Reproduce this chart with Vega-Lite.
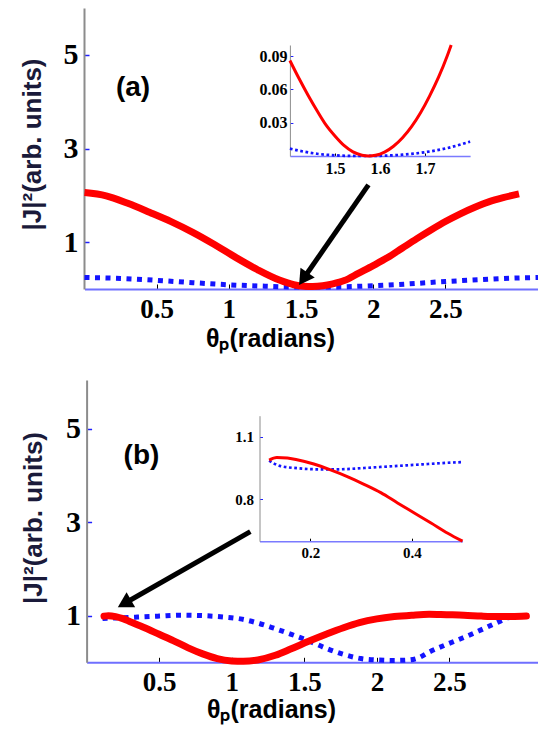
{
  "$schema": "https://vega.github.io/schema/vega-lite/v6.json",
  "width": 454,
  "height": 655,
  "autosize": {"type": "none"},
  "padding": {"left": 84, "top": 8, "right": 0, "bottom": 70},
  "background": "white",
  "config": {"view": {"stroke": null}, "axis": {"grid": false, "labelFlush": false, "labelOverlap": false}},
  "datasets": {
    "mainA": [
      {"series": "red", "theta": 0.0, "value": 2.06},
      {"series": "red", "theta": 0.15, "value": 1.99},
      {"series": "red", "theta": 0.3, "value": 1.83},
      {"series": "red", "theta": 0.45, "value": 1.64},
      {"series": "red", "theta": 0.6, "value": 1.44},
      {"series": "red", "theta": 0.75, "value": 1.21},
      {"series": "red", "theta": 0.9, "value": 0.95},
      {"series": "red", "theta": 1.05, "value": 0.67},
      {"series": "red", "theta": 1.2, "value": 0.41},
      {"series": "red", "theta": 1.35, "value": 0.19},
      {"series": "red", "theta": 1.45, "value": 0.09},
      {"series": "red", "theta": 1.52, "value": 0.06},
      {"series": "red", "theta": 1.58, "value": 0.055},
      {"series": "red", "theta": 1.65, "value": 0.07},
      {"series": "red", "theta": 1.72, "value": 0.11},
      {"series": "red", "theta": 1.8, "value": 0.18},
      {"series": "red", "theta": 1.9, "value": 0.34},
      {"series": "red", "theta": 2.0, "value": 0.5},
      {"series": "red", "theta": 2.1, "value": 0.67},
      {"series": "red", "theta": 2.2, "value": 0.87},
      {"series": "red", "theta": 2.3, "value": 1.07},
      {"series": "red", "theta": 2.4, "value": 1.26},
      {"series": "red", "theta": 2.5, "value": 1.44},
      {"series": "red", "theta": 2.6, "value": 1.6},
      {"series": "red", "theta": 2.7, "value": 1.74},
      {"series": "red", "theta": 2.8, "value": 1.86},
      {"series": "red", "theta": 2.9, "value": 1.95},
      {"series": "red", "theta": 3.01, "value": 2.03},
      {"series": "blue", "theta": 0.0, "value": 0.245},
      {"series": "blue", "theta": 0.25, "value": 0.225},
      {"series": "blue", "theta": 0.5, "value": 0.185},
      {"series": "blue", "theta": 0.75, "value": 0.135},
      {"series": "blue", "theta": 1.0, "value": 0.09},
      {"series": "blue", "theta": 1.25, "value": 0.06},
      {"series": "blue", "theta": 1.5, "value": 0.04},
      {"series": "blue", "theta": 1.75, "value": 0.045},
      {"series": "blue", "theta": 2.0, "value": 0.07},
      {"series": "blue", "theta": 2.25, "value": 0.11},
      {"series": "blue", "theta": 2.5, "value": 0.16},
      {"series": "blue", "theta": 2.75, "value": 0.2},
      {"series": "blue", "theta": 3.0, "value": 0.235},
      {"series": "blue", "theta": 3.1416, "value": 0.245}
    ],
    "insetA": [
      {"series": "red", "theta": 1.4, "value": 0.086},
      {"series": "red", "theta": 1.42, "value": 0.07},
      {"series": "red", "theta": 1.44, "value": 0.055},
      {"series": "red", "theta": 1.46, "value": 0.041},
      {"series": "red", "theta": 1.48, "value": 0.028},
      {"series": "red", "theta": 1.5, "value": 0.018},
      {"series": "red", "theta": 1.52, "value": 0.0095},
      {"series": "red", "theta": 1.54, "value": 0.0037},
      {"series": "red", "theta": 1.56, "value": 0.0007},
      {"series": "red", "theta": 1.575, "value": 0.0},
      {"series": "red", "theta": 1.59, "value": 0.0006},
      {"series": "red", "theta": 1.61, "value": 0.0035},
      {"series": "red", "theta": 1.63, "value": 0.0088},
      {"series": "red", "theta": 1.65, "value": 0.0165},
      {"series": "red", "theta": 1.67, "value": 0.0265},
      {"series": "red", "theta": 1.69, "value": 0.039},
      {"series": "red", "theta": 1.71, "value": 0.054},
      {"series": "red", "theta": 1.73, "value": 0.071},
      {"series": "red", "theta": 1.75, "value": 0.091},
      {"series": "red", "theta": 1.758, "value": 0.1},
      {"series": "blue", "theta": 1.4, "value": 0.0066},
      {"series": "blue", "theta": 1.43, "value": 0.004},
      {"series": "blue", "theta": 1.46, "value": 0.002},
      {"series": "blue", "theta": 1.5, "value": 0.0006},
      {"series": "blue", "theta": 1.55, "value": 0.0},
      {"series": "blue", "theta": 1.6, "value": 0.0002},
      {"series": "blue", "theta": 1.65, "value": 0.0012},
      {"series": "blue", "theta": 1.7, "value": 0.0034},
      {"series": "blue", "theta": 1.75, "value": 0.0072},
      {"series": "blue", "theta": 1.8, "value": 0.013}
    ],
    "mainB": [
      {"series": "red", "theta": 0.12, "value": 0.99},
      {"series": "red", "theta": 0.15, "value": 1.0},
      {"series": "red", "theta": 0.2, "value": 0.98},
      {"series": "red", "theta": 0.25, "value": 0.935},
      {"series": "red", "theta": 0.3, "value": 0.87},
      {"series": "red", "theta": 0.4, "value": 0.74},
      {"series": "red", "theta": 0.5, "value": 0.6},
      {"series": "red", "theta": 0.6, "value": 0.46},
      {"series": "red", "theta": 0.7, "value": 0.31},
      {"series": "red", "theta": 0.8, "value": 0.18},
      {"series": "red", "theta": 0.9, "value": 0.08},
      {"series": "red", "theta": 1.0, "value": 0.03},
      {"series": "red", "theta": 1.08, "value": 0.02},
      {"series": "red", "theta": 1.18, "value": 0.05},
      {"series": "red", "theta": 1.3, "value": 0.15},
      {"series": "red", "theta": 1.41, "value": 0.29},
      {"series": "red", "theta": 1.53, "value": 0.45},
      {"series": "red", "theta": 1.65, "value": 0.6},
      {"series": "red", "theta": 1.77, "value": 0.74},
      {"series": "red", "theta": 1.88, "value": 0.85},
      {"series": "red", "theta": 2.0, "value": 0.93},
      {"series": "red", "theta": 2.12, "value": 0.98},
      {"series": "red", "theta": 2.24, "value": 1.01},
      {"series": "red", "theta": 2.36, "value": 1.03},
      {"series": "red", "theta": 2.48, "value": 1.02},
      {"series": "red", "theta": 2.6, "value": 1.01},
      {"series": "red", "theta": 2.72, "value": 0.99},
      {"series": "red", "theta": 2.83, "value": 0.98},
      {"series": "red", "theta": 2.93, "value": 0.98},
      {"series": "red", "theta": 3.03, "value": 0.99},
      {"series": "blue", "theta": 0.11, "value": 0.94},
      {"series": "blue", "theta": 0.2, "value": 0.95},
      {"series": "blue", "theta": 0.35, "value": 0.97},
      {"series": "blue", "theta": 0.5, "value": 0.99},
      {"series": "blue", "theta": 0.65, "value": 1.01},
      {"series": "blue", "theta": 0.8, "value": 1.0},
      {"series": "blue", "theta": 0.95, "value": 0.97},
      {"series": "blue", "theta": 1.06, "value": 0.93},
      {"series": "blue", "theta": 1.18, "value": 0.84},
      {"series": "blue", "theta": 1.29, "value": 0.73},
      {"series": "blue", "theta": 1.41, "value": 0.6},
      {"series": "blue", "theta": 1.53, "value": 0.46},
      {"series": "blue", "theta": 1.65, "value": 0.3},
      {"series": "blue", "theta": 1.77, "value": 0.17},
      {"series": "blue", "theta": 1.89, "value": 0.08},
      {"series": "blue", "theta": 2.0, "value": 0.05},
      {"series": "blue", "theta": 2.12, "value": 0.04},
      {"series": "blue", "theta": 2.22, "value": 0.05},
      {"series": "blue", "theta": 2.29, "value": 0.1},
      {"series": "blue", "theta": 2.36, "value": 0.22},
      {"series": "blue", "theta": 2.47, "value": 0.37},
      {"series": "blue", "theta": 2.59, "value": 0.52},
      {"series": "blue", "theta": 2.7, "value": 0.67},
      {"series": "blue", "theta": 2.82, "value": 0.84},
      {"series": "blue", "theta": 2.92, "value": 0.97},
      {"series": "blue", "theta": 2.98, "value": 1.0}
    ],
    "insetB": [
      {"series": "red", "theta": 0.119, "value": 0.988},
      {"series": "red", "theta": 0.134, "value": 1.0},
      {"series": "red", "theta": 0.155, "value": 0.998},
      {"series": "red", "theta": 0.174, "value": 0.989},
      {"series": "red", "theta": 0.207, "value": 0.969},
      {"series": "red", "theta": 0.24, "value": 0.941},
      {"series": "red", "theta": 0.273, "value": 0.909},
      {"series": "red", "theta": 0.306, "value": 0.872},
      {"series": "red", "theta": 0.339, "value": 0.832},
      {"series": "red", "theta": 0.372, "value": 0.783},
      {"series": "red", "theta": 0.405, "value": 0.735},
      {"series": "red", "theta": 0.438, "value": 0.687},
      {"series": "red", "theta": 0.471, "value": 0.638},
      {"series": "red", "theta": 0.5, "value": 0.6},
      {"series": "blue", "theta": 0.119, "value": 0.985},
      {"series": "blue", "theta": 0.14, "value": 0.96},
      {"series": "blue", "theta": 0.174, "value": 0.949},
      {"series": "blue", "theta": 0.207, "value": 0.944},
      {"series": "blue", "theta": 0.24, "value": 0.943},
      {"series": "blue", "theta": 0.273, "value": 0.945},
      {"series": "blue", "theta": 0.306, "value": 0.95},
      {"series": "blue", "theta": 0.339, "value": 0.955},
      {"series": "blue", "theta": 0.372, "value": 0.96},
      {"series": "blue", "theta": 0.405, "value": 0.965},
      {"series": "blue", "theta": 0.438, "value": 0.97},
      {"series": "blue", "theta": 0.471, "value": 0.975},
      {"series": "blue", "theta": 0.5, "value": 0.978}
    ],
    "arrowA": [{"theta": 1.967, "value": 2.224, "theta2": 1.516, "value2": 0.218}],
    "arrowB": [{"theta": 1.128, "value": 2.8, "theta2": 0.26, "value2": 1.26}]
  },
  "layer": [
    {
      "data": {"name": "mainA"},
      "encoding": {
        "x": {"field": "theta", "type": "quantitative",
          "scale": {"domain": [0, 3.1416], "range": [0.5, 454], "nice": false, "zero": false},
          "axis": {"orient": "bottom", "offset": -374, "values": [0.5, 1, 1.5, 2, 2.5], "format": "~g",
            "labelFont": "'Liberation Serif', 'Times New Roman', Times, serif", "labelFontWeight": "bold", "labelFontSize": 27, "labelColor": "black", "labelPadding": 12,
            "tickSize": -5, "tickColor": "black", "tickWidth": 1,
            "domainColor": "#6f6fff", "domainWidth": 2,
            "title": "θₚ(radians)", "titleFont": "Liberation Sans", "titleFontSize": 25, "titleFontWeight": "bold", "titleColor": "black",
            "titleX": 186, "titleY": 57, "titleBaseline": "alphabetic", "titleAlign": "center", "titleAngle": 0}},
        "y": {"field": "value", "type": "quantitative",
          "scale": {"domain": [0, 6], "range": [281, 0], "nice": false, "zero": false},
          "axis": {"orient": "left", "values": [1, 3, 5], "format": "~g",
            "labelFont": "'Liberation Serif', 'Times New Roman', Times, serif", "labelFontWeight": "bold", "labelFontSize": 30, "labelColor": "black", "labelPadding": 11,
            "tickSize": -5, "tickColor": "#2020ff", "tickWidth": 1.5,
            "domainColor": "#8c8c8c", "domainWidth": 2,
            "title": "|J|²(arb. units)", "titleFont": "Liberation Sans", "titleFontSize": 26, "titleFontWeight": "bold", "titleColor": "#1a1a3a",
            "titleX": -44, "titleY": 136, "titleAngle": 270, "titleBaseline": "alphabetic", "titleAlign": "center"}}
      },
      "layer": [
        {"transform": [{"filter": "datum.series === 'blue'"}],
         "mark": {"type": "line", "color": "#1414ff", "strokeWidth": 5, "strokeDash": [5, 5.5], "strokeCap": "butt", "interpolate": "monotone"}},
        {"transform": [{"filter": "datum.series === 'red'"}],
         "mark": {"type": "line", "color": "#ff0000", "strokeWidth": 7, "interpolate": "monotone"}},
        {"data": {"name": "arrowA"}, "mark": {"type": "rule", "color": "black", "strokeWidth": 5},
         "encoding": {"x2": {"field": "theta2"}, "y2": {"field": "value2"}}},
        {"data": {"name": "arrowA"}, "mark": {"type": "point", "shape": "triangle-up", "filled": true, "color": "black", "opacity": 1, "size": 300, "angle": 214.8},
         "encoding": {"x": {"field": "theta2", "type": "quantitative"}, "y": {"field": "value2", "type": "quantitative"}}},
        {"data": {"values": [{"theta": 0.336, "value": 4.29, "label": "(a)"}]},
         "mark": {"type": "text", "font": "Liberation Sans", "fontWeight": "bold", "fontSize": 28, "align": "center", "baseline": "middle", "color": "black"},
         "encoding": {"text": {"field": "label"}}},
        {"data": {"values": [{}]}, "mark": {"type": "rule", "color": "#5a5aff", "strokeWidth": 2},
         "encoding": {"x": {"datum": 0}, "x2": {"datum": 3.1416}, "y": {"datum": 6}}}
      ]
    },
    {
      "data": {"name": "insetA"},
      "encoding": {
        "x": {"field": "theta", "type": "quantitative",
          "scale": {"domain": [1.4, 1.8], "range": [205.9, 386.1], "nice": false, "zero": false},
          "axis": {"orient": "bottom", "offset": -507, "values": [1.5, 1.6, 1.7], "format": "~g",
            "labelFont": "'Liberation Serif', 'Times New Roman', Times, serif", "labelFontWeight": "bold", "labelFontSize": 16, "labelColor": "black", "labelPadding": 7,
            "tickSize": -3, "tickColor": "black", "tickWidth": 1,
            "domainColor": "#7a7aff", "domainWidth": 1.5, "title": null}},
        "y": {"field": "value", "type": "quantitative",
          "scale": {"domain": [0, 0.1], "range": [148, 37], "nice": false, "zero": false},
          "axis": {"orient": "left", "offset": -205.9, "values": [0.03, 0.06, 0.09], "format": "~g",
            "labelFont": "'Liberation Serif', 'Times New Roman', Times, serif", "labelFontWeight": "bold", "labelFontSize": 16, "labelColor": "black", "labelPadding": 6,
            "tickSize": -3, "tickColor": "#2020ff", "tickWidth": 1,
            "domainColor": "#8c8c8c", "domainWidth": 1, "title": null}}
      },
      "layer": [
        {"transform": [{"filter": "datum.series === 'blue'"}],
         "mark": {"type": "line", "color": "#1414ff", "strokeWidth": 2.7, "strokeDash": [2.7, 2.6], "strokeCap": "butt", "interpolate": "monotone"}},
        {"transform": [{"filter": "datum.series === 'red'"}],
         "mark": {"type": "line", "color": "#ff0000", "strokeWidth": 3, "interpolate": "monotone"}},
        {"data": {"values": [{}]}, "mark": {"type": "rule", "color": "#5a5aff", "strokeWidth": 2},
         "encoding": {"x": {"datum": 1.4}, "x2": {"datum": 1.8}, "y": {"datum": 0.1}}},
        {"data": {"values": [{}]}, "mark": {"type": "rule", "color": "black", "strokeWidth": 2},
         "encoding": {"x": {"datum": 1.8}, "y": {"datum": 0}, "y2": {"datum": 0.1}}}
      ]
    },
    {
      "data": {"name": "mainB"},
      "encoding": {
        "x": {"field": "theta", "type": "quantitative",
          "scale": {"domain": [0, 3.11], "range": [2.6, 454], "nice": false, "zero": false},
          "axis": {"orient": "bottom", "offset": -0.7, "values": [0.5, 1, 1.5, 2, 2.5], "format": "~g",
            "labelFont": "'Liberation Serif', 'Times New Roman', Times, serif", "labelFontWeight": "bold", "labelFontSize": 27, "labelColor": "black", "labelPadding": 12,
            "tickSize": -5, "tickColor": "black", "tickWidth": 1,
            "domainColor": "#6f6fff", "domainWidth": 2,
            "title": "θₚ(radians)", "titleFont": "Liberation Sans", "titleFontSize": 25, "titleFontWeight": "bold", "titleColor": "black",
            "titleX": 187, "titleY": 55.4, "titleBaseline": "alphabetic", "titleAlign": "center", "titleAngle": 0}},
        "y": {"field": "value", "type": "quantitative",
          "scale": {"domain": [0, 6.05], "range": [654.3, 372], "nice": false, "zero": false},
          "axis": {"orient": "left", "offset": -2.6, "values": [1, 3, 5], "format": "~g",
            "labelFont": "'Liberation Serif', 'Times New Roman', Times, serif", "labelFontWeight": "bold", "labelFontSize": 30, "labelColor": "black", "labelPadding": 11,
            "tickSize": -5, "tickColor": "#2020ff", "tickWidth": 1.5,
            "domainColor": "#8c8c8c", "domainWidth": 2,
            "title": "|J|²(arb. units)", "titleFont": "Liberation Sans", "titleFontSize": 26, "titleFontWeight": "bold", "titleColor": "#1a1a3a",
            "titleX": -45.6, "titleY": 509.5, "titleAngle": 270, "titleBaseline": "alphabetic", "titleAlign": "center"}}
      },
      "layer": [
        {"transform": [{"filter": "datum.series === 'blue'"}],
         "mark": {"type": "line", "color": "#1414ff", "strokeWidth": 5, "strokeDash": [5, 5.5], "strokeCap": "butt", "interpolate": "monotone"}},
        {"transform": [{"filter": "datum.series === 'red'"}],
         "mark": {"type": "line", "color": "#ff0000", "strokeWidth": 7, "strokeCap": "round", "interpolate": "monotone"}},
        {"data": {"name": "arrowB"}, "mark": {"type": "rule", "color": "black", "strokeWidth": 5},
         "encoding": {"x2": {"field": "theta2"}, "y2": {"field": "value2"}}},
        {"data": {"name": "arrowB"}, "mark": {"type": "point", "shape": "triangle-up", "filled": true, "color": "black", "opacity": 1, "size": 300, "angle": 240.3},
         "encoding": {"x": {"field": "theta2", "type": "quantitative"}, "y": {"field": "value2", "type": "quantitative"}}},
        {"data": {"values": [{"theta": 0.378, "value": 4.42, "label": "(b)"}]},
         "mark": {"type": "text", "font": "Liberation Sans", "fontWeight": "bold", "fontSize": 28, "align": "center", "baseline": "middle", "color": "black"},
         "encoding": {"text": {"field": "label"}}},
        {"data": {"values": [{}]}, "mark": {"type": "rule", "color": "#5a5aff", "strokeWidth": 2},
         "encoding": {"x": {"datum": 0}, "x2": {"datum": 3.11}, "y": {"datum": 6.05}}}
      ]
    },
    {
      "data": {"name": "insetB"},
      "encoding": {
        "x": {"field": "theta", "type": "quantitative",
          "scale": {"domain": [0.1, 0.5], "range": [175.5, 378.5], "nice": false, "zero": false},
          "axis": {"orient": "bottom", "offset": -121.8, "values": [0.2, 0.4], "format": "~g",
            "labelFont": "'Liberation Serif', 'Times New Roman', Times, serif", "labelFontWeight": "bold", "labelFontSize": 15, "labelColor": "black", "labelPadding": 7,
            "tickSize": -3, "tickColor": "black", "tickWidth": 1,
            "domainColor": "#7a7aff", "domainWidth": 1.5, "title": null}},
        "y": {"field": "value", "type": "quantitative",
          "scale": {"domain": [0.6, 1.2], "range": [533.2, 407.7], "nice": false, "zero": false},
          "axis": {"orient": "left", "offset": -175.5, "values": [0.8, 1.1], "format": "~g",
            "labelFont": "'Liberation Serif', 'Times New Roman', Times, serif", "labelFontWeight": "bold", "labelFontSize": 15, "labelColor": "black", "labelPadding": 9,
            "tickSize": -3, "tickColor": "#2020ff", "tickWidth": 1,
            "domainColor": "#8c8c8c", "domainWidth": 1, "title": null}}
      },
      "layer": [
        {"transform": [{"filter": "datum.series === 'blue'"}],
         "mark": {"type": "line", "color": "#1414ff", "strokeWidth": 2.7, "strokeDash": [2.7, 2.6], "strokeCap": "butt", "interpolate": "monotone"}},
        {"transform": [{"filter": "datum.series === 'red'"}],
         "mark": {"type": "line", "color": "#ff0000", "strokeWidth": 3, "interpolate": "monotone"}},
        {"data": {"values": [{}]}, "mark": {"type": "rule", "color": "#5a5aff", "strokeWidth": 2},
         "encoding": {"x": {"datum": 0.1}, "x2": {"datum": 0.5}, "y": {"datum": 1.2}}},
        {"data": {"values": [{}]}, "mark": {"type": "rule", "color": "black", "strokeWidth": 2},
         "encoding": {"x": {"datum": 0.5}, "y": {"datum": 0.6}, "y2": {"datum": 1.2}}}
      ]
    }
  ],
  "resolve": {"scale": {"x": "independent", "y": "independent"}, "axis": {"x": "independent", "y": "independent"}}
}
